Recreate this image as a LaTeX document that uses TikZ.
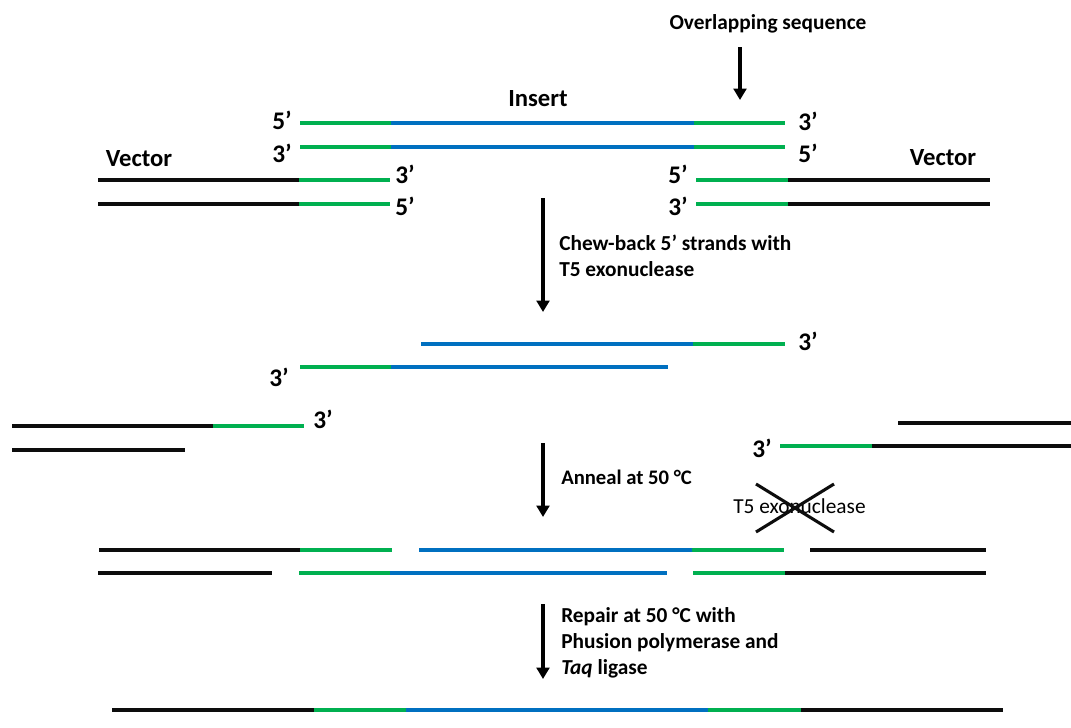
\documentclass[tikz,border=0pt]{standalone}
\usepackage{fontspec}
\setmainfont{Carlito}
\usetikzlibrary{arrows.meta}

\definecolor{dnagreen}{HTML}{00B050}
\definecolor{dnablue}{HTML}{0070C0}
\definecolor{dnablack}{HTML}{0D0D0D}

\begin{document}
\begin{tikzpicture}[x=0.75pt, y=-0.75pt]
  % Styles
  \tikzset{
    grn/.style={draw=dnagreen, line width=3.4pt},
    blu/.style={draw=dnablue, line width=3.4pt},
    blk/.style={draw=dnablack, line width=3.4pt},
    lbl/.style={font=\bfseries\fontsize{16}{19.5}\selectfont, inner sep=0pt, anchor=base},
    endlbl/.style={lbl, font=\bfseries\fontsize{19}{22}\selectfont},
    namelbl/.style={lbl, font=\bfseries\fontsize{18.5}{22}\selectfont},
    steptext/.style={font=\bfseries\fontsize{16}{19.5}\selectfont, inner sep=0pt, align=left, anchor=north west},
    arrow/.style={-{Triangle[width=9.5pt,length=8.5pt]}, line width=2.4pt}
  }
  \useasboundingbox (0,0) rectangle (1071,728);

  % Insert with overlapping ends
  \draw[grn] (300,123) -- (391,123) (694,123) -- (785,123);
  \draw[blu] (391,123) -- (694,123);
  \draw[grn] (300,147) -- (391,147) (694,147) -- (785,147);
  \draw[blu] (391,147) -- (694,147);

  % Vector ends
  \draw[blk] (98,180) -- (299,180) (788,180) -- (990,180);
  \draw[grn] (299,180) -- (390,180) (696,180) -- (788,180);
  \draw[blk] (98,204) -- (299,204) (788,204) -- (990,204);
  \draw[grn] (299,204) -- (390,204) (696,204) -- (788,204);

  % Labels, first row
  \node[lbl] (overlap) at (768,29) {Overlapping sequence};
  \node[namelbl] (insert) at (538,106) {Insert};
  \node[namelbl] (vecL) at (139,166) {Vector};
  \node[namelbl] (vecR) at (943,165) {Vector};
  \node[endlbl] (i5L) at (282,129) {5’};
  \node[endlbl] (i3L) at (282,162) {3’};
  \node[endlbl] (i3R) at (808,130) {3’};
  \node[endlbl] (i5R) at (808,162) {5’};
  \node[endlbl] (v3L) at (405,183) {3’};
  \node[endlbl] (v5L) at (405,215) {5’};
  \node[endlbl] (v5R) at (678,183) {5’};
  \node[endlbl] (v3R) at (678,215) {3’};

  \coordinate (ovStart) at (740,47);
  \coordinate (ovEnd) at (740,100);
  \draw[arrow] (ovStart) -- (ovEnd);

  % Step 1: chew-back
  \coordinate (s1Start) at (543,198);
  \coordinate (s1End) at (543,312);
  \draw[arrow] (s1Start) -- (s1End);
  \node[steptext] (chew) at (559,235) {Chew-back 5’ strands with\\T5 exonuclease};

  \draw[blu] (421,344) -- (693,344);
  \draw[grn] (693,344) -- (785,344);
  \draw[grn] (300,367) -- (391,367);
  \draw[blu] (391,367) -- (668,367);
  \node[endlbl] (c3R) at (808,350) {3’};
  \node[endlbl] (c3L) at (279,386) {3’};

  \draw[blk] (12,426) -- (213,426);
  \draw[grn] (213,426) -- (304,426);
  \draw[blk] (12,450) -- (185,450);
  \node[endlbl] (c3VL) at (323,428) {3’};

  \draw[blk] (898,423) -- (1071,423);
  \draw[grn] (780,446) -- (872,446);
  \draw[blk] (872,446) -- (1071,446);
  \node[endlbl] (c3VR) at (762,457) {3’};

  % Step 2: anneal
  \coordinate (s2Start) at (543,443);
  \coordinate (s2End) at (543,517);
  \draw[arrow] (s2Start) -- (s2End);
  \node[lbl, anchor=base west, font=\bfseries\fontsize{15.5}{19}\selectfont] (anneal) at (561,484) {Anneal at 50 °C};
  \node[inner sep=0pt, anchor=base west, font=\fontsize{16}{19.5}\selectfont] (exo) at (733,513) {T5 exonuclease};
  \draw[line width=2.3pt, dnablack] (756,484) -- (834,532) (756,532) -- (834,484);

  \draw[blk] (99,550) -- (300,550) (810,550) -- (986,550);
  \draw[grn] (300,550) -- (392,550) (692,550) -- (784,550);
  \draw[blu] (419,550) -- (692,550);
  \draw[blk] (98,573) -- (272,573) (785,573) -- (986,573);
  \draw[grn] (299,573) -- (390,573) (693,573) -- (785,573);
  \draw[blu] (390,573) -- (667,573);

  % Step 3: repair
  \coordinate (s3Start) at (543,604);
  \coordinate (s3End) at (543,679);
  \draw[arrow] (s3Start) -- (s3End);
  \node[steptext] (repair) at (561,607) {Repair at 50 °C with\\Phusion polymerase and\\\textit{Taq} ligase};

  \draw[blk] (112,710) -- (314,710) (801,710) -- (1003,710);
  \draw[grn] (314,710) -- (406,710) (708,710) -- (801,710);
  \draw[blu] (406,710) -- (708,710);
\end{tikzpicture}
\end{document}
